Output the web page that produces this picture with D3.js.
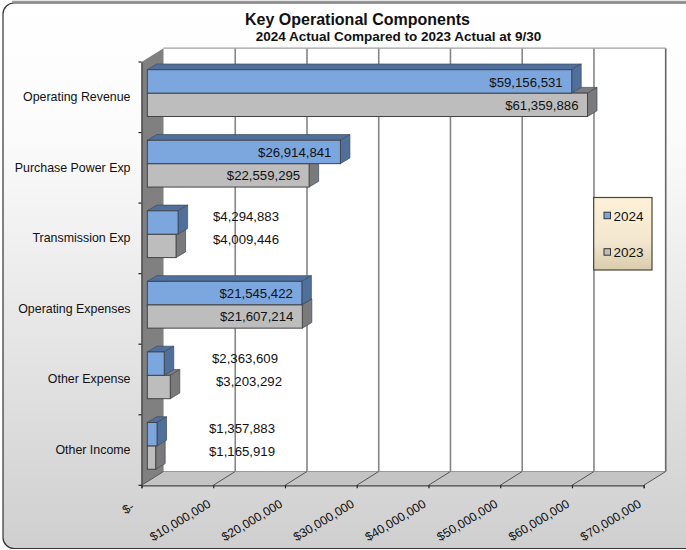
<!DOCTYPE html>
<html>
<head>
<meta charset="utf-8">
<script src="https://cdn.jsdelivr.net/npm/d3@7"></script>
<style>
html, body { margin: 0; padding: 0; background: #fff; }
text { font-family: "Liberation Sans", Arial, sans-serif; fill: #111; }
</style>
</head>
<body>
<div id="chart"></div>
<script>
var categories = ["Operating Revenue", "Purchase Power Exp", "Transmission Exp", "Operating Expenses", "Other Expense", "Other Income"];
var values2024 = [59156531, 26914841, 4294883, 21545422, 2363609, 1357883];
var values2023 = [61359886, 22559295, 4009446, 21607214, 3203292, 1165919];
var seriesNames = ["2024", "2023"];
var xTicks = [0, 10000000, 20000000, 30000000, 40000000, 50000000, 60000000, 70000000];

var width = 686, height = 550;
var depthX = 22, depthY = -13.8;   // depth of the 3d box
var barDX = 9.5, barDY = -5.7;     // depth of one bar
var barInset = 5.8;
var barHeight = 23.4;

// where the labels that do not fit in a bar end
var outsideEnd = {"2024": {2: 279, 4: 278, 5: 275}, "2023": {2: 279, 4: 282, 5: 275}};

var svg = d3.select("#chart").append("svg")
	.attr("width", width)
	.attr("height", height)
	.style("display", "block");

var defs = svg.append("defs");
var bg = defs.append("linearGradient").attr("id", "bg").attr("x2", 0).attr("y2", 1);
bg.append("stop").attr("offset", "0").attr("stop-color", "#ffffff");
bg.append("stop").attr("offset", "0.25").attr("stop-color", "#fbfbfb");
bg.append("stop").attr("offset", "1").attr("stop-color", "#cfcfcf");
var lg = defs.append("linearGradient").attr("id", "lg").attr("x2", 0).attr("y2", 1);
lg.append("stop").attr("offset", "0").attr("stop-color", "#fdf1d8");
lg.append("stop").attr("offset", "0.6").attr("stop-color", "#f3e8cf");
lg.append("stop").attr("offset", "1").attr("stop-color", "#d8ccab");

// panel
svg.append("line").attr("x1", 12).attr("x2", width).attr("y1", 1.5).attr("y2", 1.5)
	.attr("stroke", "#9a9a9a").attr("stroke-width", 1.5);
svg.append("rect")
	.attr("x", 3).attr("y", 3).attr("width", 700).attr("height", 545.5)
	.attr("rx", 11).attr("ry", 11)
	.attr("fill", "url(#bg)").attr("stroke", "#333").attr("stroke-width", 1.2);

var x = d3.scaleLinear().domain([0, 70000000]).range([141.5, 643.7]);
var y = d3.scaleBand().domain(categories).range([62, 485.3]);
var x0 = x(0), yTop = y.range()[0], yBottom = y.range()[1];
var xEnd = x(70000000);

function poly(points, fill, stroke, sw) {
	return svg.append("polygon")
		.attr("points", points.map(function(p) { return p.join(","); }).join(" "))
		.attr("fill", fill)
		.attr("stroke", stroke || "none")
		.attr("stroke-width", sw || 0);
}

// back wall, side wall, floor
poly([[x0 + depthX, yTop + depthY], [xEnd + depthX, yTop + depthY], [xEnd + depthX, yBottom + depthY], [x0 + depthX, yBottom + depthY]], "#fff");
poly([[x0, yBottom], [x0 + depthX, yBottom + depthY], [xEnd + depthX, yBottom + depthY], [xEnd, yBottom]], "#c4c4c4");
poly([[x0, yTop], [x0 + depthX, yTop + depthY], [x0 + depthX, yBottom + depthY], [x0, yBottom]], "#808080");

svg.append("g").selectAll("line").data(xTicks.slice(1)).enter().append("line")
	.attr("x1", function(d) { return x(d) + depthX; })
	.attr("x2", function(d) { return x(d) + depthX; })
	.attr("y1", yTop + depthY)
	.attr("y2", yBottom + depthY)
	.attr("stroke", function(d) { return d == 70000000 ? "#666" : "#858585"; })
	.attr("stroke-width", 1.6);
svg.append("line")
	.attr("x1", x0 + depthX).attr("x2", xEnd + depthX)
	.attr("y1", yTop + depthY).attr("y2", yTop + depthY)
	.attr("stroke", "#a0a0a0").attr("stroke-width", 1.2);
svg.append("line")
	.attr("x1", x0 + depthX).attr("x2", xEnd + depthX)
	.attr("y1", yBottom + depthY).attr("y2", yBottom + depthY)
	.attr("stroke", "#999").attr("stroke-width", 1);

svg.append("g").selectAll("line").data(xTicks).enter().append("line")
	.attr("x1", function(d) { return x(d); })
	.attr("x2", function(d) { return x(d) + depthX; })
	.attr("y1", yBottom)
	.attr("y2", yBottom + depthY)
	.attr("stroke", "#555")
	.attr("stroke-width", 1);

// axes
var xAxis = d3.axisBottom(x)
	.tickValues(xTicks)
	.tickSize(3)
	.tickPadding(0)
	.tickFormat(function(d) { return d == 0 ? "$-" : "$" + d3.format(",")(d); });
var xg = svg.append("g").attr("transform", "translate(0," + yBottom + ")").call(xAxis);
xg.select(".domain").attr("stroke", "#444").attr("stroke-width", 1.3);
xg.selectAll(".tick line").attr("stroke", "#222").attr("stroke-width", 1.2);
xg.selectAll(".tick text")
	.attr("text-anchor", "end")
	.attr("font-size", "12.3px")
	.attr("dy", 0)
	.attr("y", 0)
	.attr("fill", "#111")
	.attr("transform", function(d) {
		return (d == 0 ? "translate(-7,23.5)" : "translate(-2,21)") + " rotate(-31)";
	});

var yAxis = d3.axisLeft(y).tickSize(0).tickPadding(11);
var yg = svg.append("g").attr("transform", "translate(" + x0 + ",0)").call(yAxis);
yg.select(".domain").attr("stroke", "#444").attr("stroke-width", 1.3);
yg.selectAll(".tick text").attr("font-size", "12.4px").attr("fill", "#111");

// ticks between the categories
svg.append("g").selectAll("line").data(d3.range(categories.length + 1)).enter().append("line")
	.attr("x1", x0 - 3)
	.attr("x2", x0)
	.attr("y1", function(i) { return yTop + i * y.step(); })
	.attr("y2", function(i) { return yTop + i * y.step(); })
	.attr("stroke", "#222")
	.attr("stroke-width", 1.2);

// one 3d bar
function drawBar(v, top, front, lid, side) {
	var bx0 = x(0) + barInset, bx1 = x(v) + barInset;
	var edge = "#3d4a5c";
	poly([[bx0, top], [bx0 + barDX, top + barDY], [bx1 + barDX, top + barDY], [bx1, top]], lid, edge, 0.7);
	poly([[bx1, top], [bx1 + barDX, top + barDY], [bx1 + barDX, top + barDY + barHeight], [bx1, top + barHeight]], side, edge, 0.7);
	svg.append("rect")
		.attr("x", bx0).attr("y", top)
		.attr("width", bx1 - bx0).attr("height", barHeight)
		.attr("fill", front)
		.attr("stroke", "#444").attr("stroke-width", 1);
}

categories.forEach(function(c, i) {
	var top = y(c) + 7.7;
	drawBar(values2023[i], top + barHeight, "#bdbdbd", "#7d7d7d", "#7a7a7a");
	drawBar(values2024[i], top, "#7ba7de", "#4f709c", "#4f709c");
});

// value labels
function drawLabels(values, name, dy) {
	svg.append("g").selectAll("text").data(values).enter().append("text")
		.attr("x", function(d, i) {
			var e = outsideEnd[name][i];
			return e ? e : x(d) + barInset - 9;
		})
		.attr("y", function(d, i) {
			return y(categories[i]) + dy - (outsideEnd[name][i] ? 6.5 : 0);
		})
		.attr("text-anchor", "end")
		.attr("font-size", "13.2px")
		.text(function(d) { return "$" + d3.format(",")(d); });
}
drawLabels(values2024, "2024", 24.8);
drawLabels(values2023, "2023", 47.8);

// legend
svg.append("rect")
	.attr("x", 593.7).attr("y", 197.5).attr("width", 58.3).attr("height", 72.5)
	.attr("fill", "url(#lg)").attr("stroke", "#4a4535").attr("stroke-width", 1.2);
var legendColors = ["#7ba7de", "#bdbdbd"];
var legendY = [215.5, 252];
seriesNames.forEach(function(s, i) {
	svg.append("rect")
		.attr("x", 604).attr("y", legendY[i] - 3.3).attr("width", 6.5).attr("height", 6.5)
		.attr("fill", legendColors[i]).attr("stroke", "#333").attr("stroke-width", 1);
	svg.append("text")
		.attr("x", 613.5).attr("y", legendY[i] + 5)
		.attr("font-size", "13.5px")
		.text(s);
});

// titles
svg.append("text")
	.attr("x", 357.5).attr("y", 25)
	.attr("text-anchor", "middle")
	.attr("font-size", "16px").attr("font-weight", "bold")
	.text("Key Operational Components");
svg.append("text")
	.attr("x", 398.5).attr("y", 41)
	.attr("text-anchor", "middle")
	.attr("font-size", "13.5px").attr("font-weight", "bold")
	.text("2024 Actual Compared to 2023 Actual at 9/30");
</script>
</body>
</html>
